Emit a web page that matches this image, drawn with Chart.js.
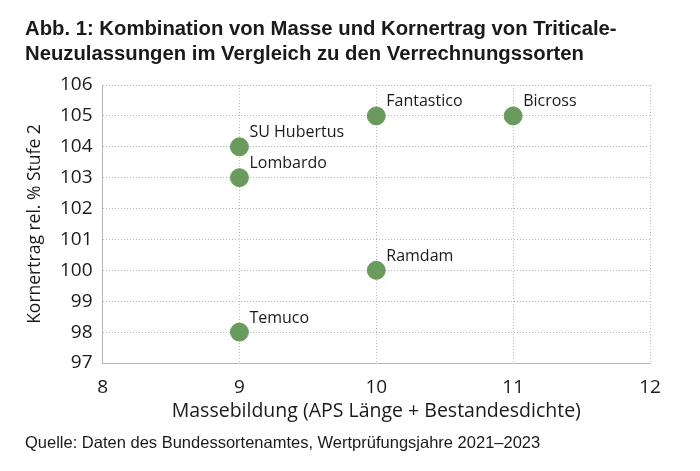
<!DOCTYPE html>
<html>
<head>
<meta charset="utf-8">
<script src="https://cdn.jsdelivr.net/npm/chart.js@4/dist/chart.umd.min.js"></script>
<style>
  html, body { margin: 0; padding: 0; background: #fff; }
  #wrap { width: 700px; height: 471px; }
</style>
</head>
<body>
<div id="wrap"><canvas id="c" width="700" height="471"></canvas></div>
<script>
// Sorten und Werte
var sorten = ['Fantastico', 'Bicross', 'SU Hubertus', 'Lombardo', 'Ramdam', 'Temuco'];
var masse = [10, 11, 9, 9, 10, 9];
var kornertrag = [105, 105, 104, 103, 100, 98];

var titelZeilen = ['Abb. 1: Kombination von Masse und Kornertrag von Triticale-',
                   'Neuzulassungen im Vergleich zu den Verrechnungssorten'];
var quelle = 'Quelle: Daten des Bundessortenamtes, Wertprüfungsjahre 2021–2023';

var punkte = sorten.map(function (s, i) {
    return { x: masse[i], y: kornertrag[i] };
});

var gruen = '#6a9b5d';
var gridFarbe = '#b8b8b8';
var schrift = "'Open Sans', sans-serif";
var titelSchrift = "'Liberation Sans', Arial, sans-serif";

// Beschriftung der Punkte
var punktLabels = {
    id: 'punktLabels',
    afterDatasetsDraw: function (chart) {
        var ctx = chart.ctx;
        var meta = chart.getDatasetMeta(0);
        ctx.save();
        ctx.font = '16px ' + schrift;
        ctx.fillStyle = '#1a1a1a';
        ctx.textBaseline = 'middle';
        ctx.textAlign = 'left';
        meta.data.forEach(function (el, i) {
            ctx.fillText(sorten[i], el.x + 10, el.y - 14);
        });
        ctx.restore();
    }
};

new Chart(document.getElementById('c'), {
    type: 'scatter',
    data: {
        datasets: [{
            data: punkte,
            backgroundColor: gruen,
            borderColor: gruen,
            pointRadius: 9,
            pointHoverRadius: 9
        }]
    },
    options: {
        responsive: false,
        animation: false,
        layout: { padding: { left: 25, right: 50, top: 11, bottom: 4 } },
        plugins: {
            legend: { display: false },
            tooltip: { enabled: false },
            title: {
                display: true,
                text: titelZeilen,
                align: 'start',
                color: '#1a1a1a',
                font: { family: titelSchrift, size: 20.3, weight: 'bold', lineHeight: 1.22 },
                padding: { top: 6, bottom: 18.5 }
            },
            subtitle: {
                display: true,
                text: quelle,
                position: 'bottom',
                align: 'start',
                color: '#1a1a1a',
                font: { family: titelSchrift, size: 16.5 },
                padding: { top: 10, bottom: 14 }
            }
        },
        scales: {
            x: {
                type: 'linear',
                min: 8,
                max: 12,
                ticks: { stepSize: 1, color: '#1a1a1a', font: { family: schrift, size: 19 }, padding: 13 },
                grid: { color: gridFarbe, tickLength: 0 },
                border: { display: true, color: gridFarbe, dash: [1, 2] },
                title: {
                    display: true,
                    text: 'Massebildung (APS Länge + Bestandesdichte)',
                    color: '#1a1a1a',
                    font: { family: schrift, size: 19.5 },
                    padding: { top: -12, bottom: 0 }
                }
            },
            y: {
                type: 'linear',
                min: 97,
                max: 106,
                ticks: { stepSize: 1, color: '#1a1a1a', font: { family: schrift, size: 19 }, padding: 10 },
                grid: { color: gridFarbe, tickLength: 0 },
                border: { display: true, color: gridFarbe, dash: [1, 2] },
                title: {
                    display: true,
                    text: 'Kornertrag rel. % Stufe 2',
                    color: '#1a1a1a',
                    font: { family: schrift, size: 17.5 },
                    padding: { top: 0, bottom: 4 }
                }
            }
        }
    },
    plugins: [punktLabels]
});
</script>
</body>
</html>
